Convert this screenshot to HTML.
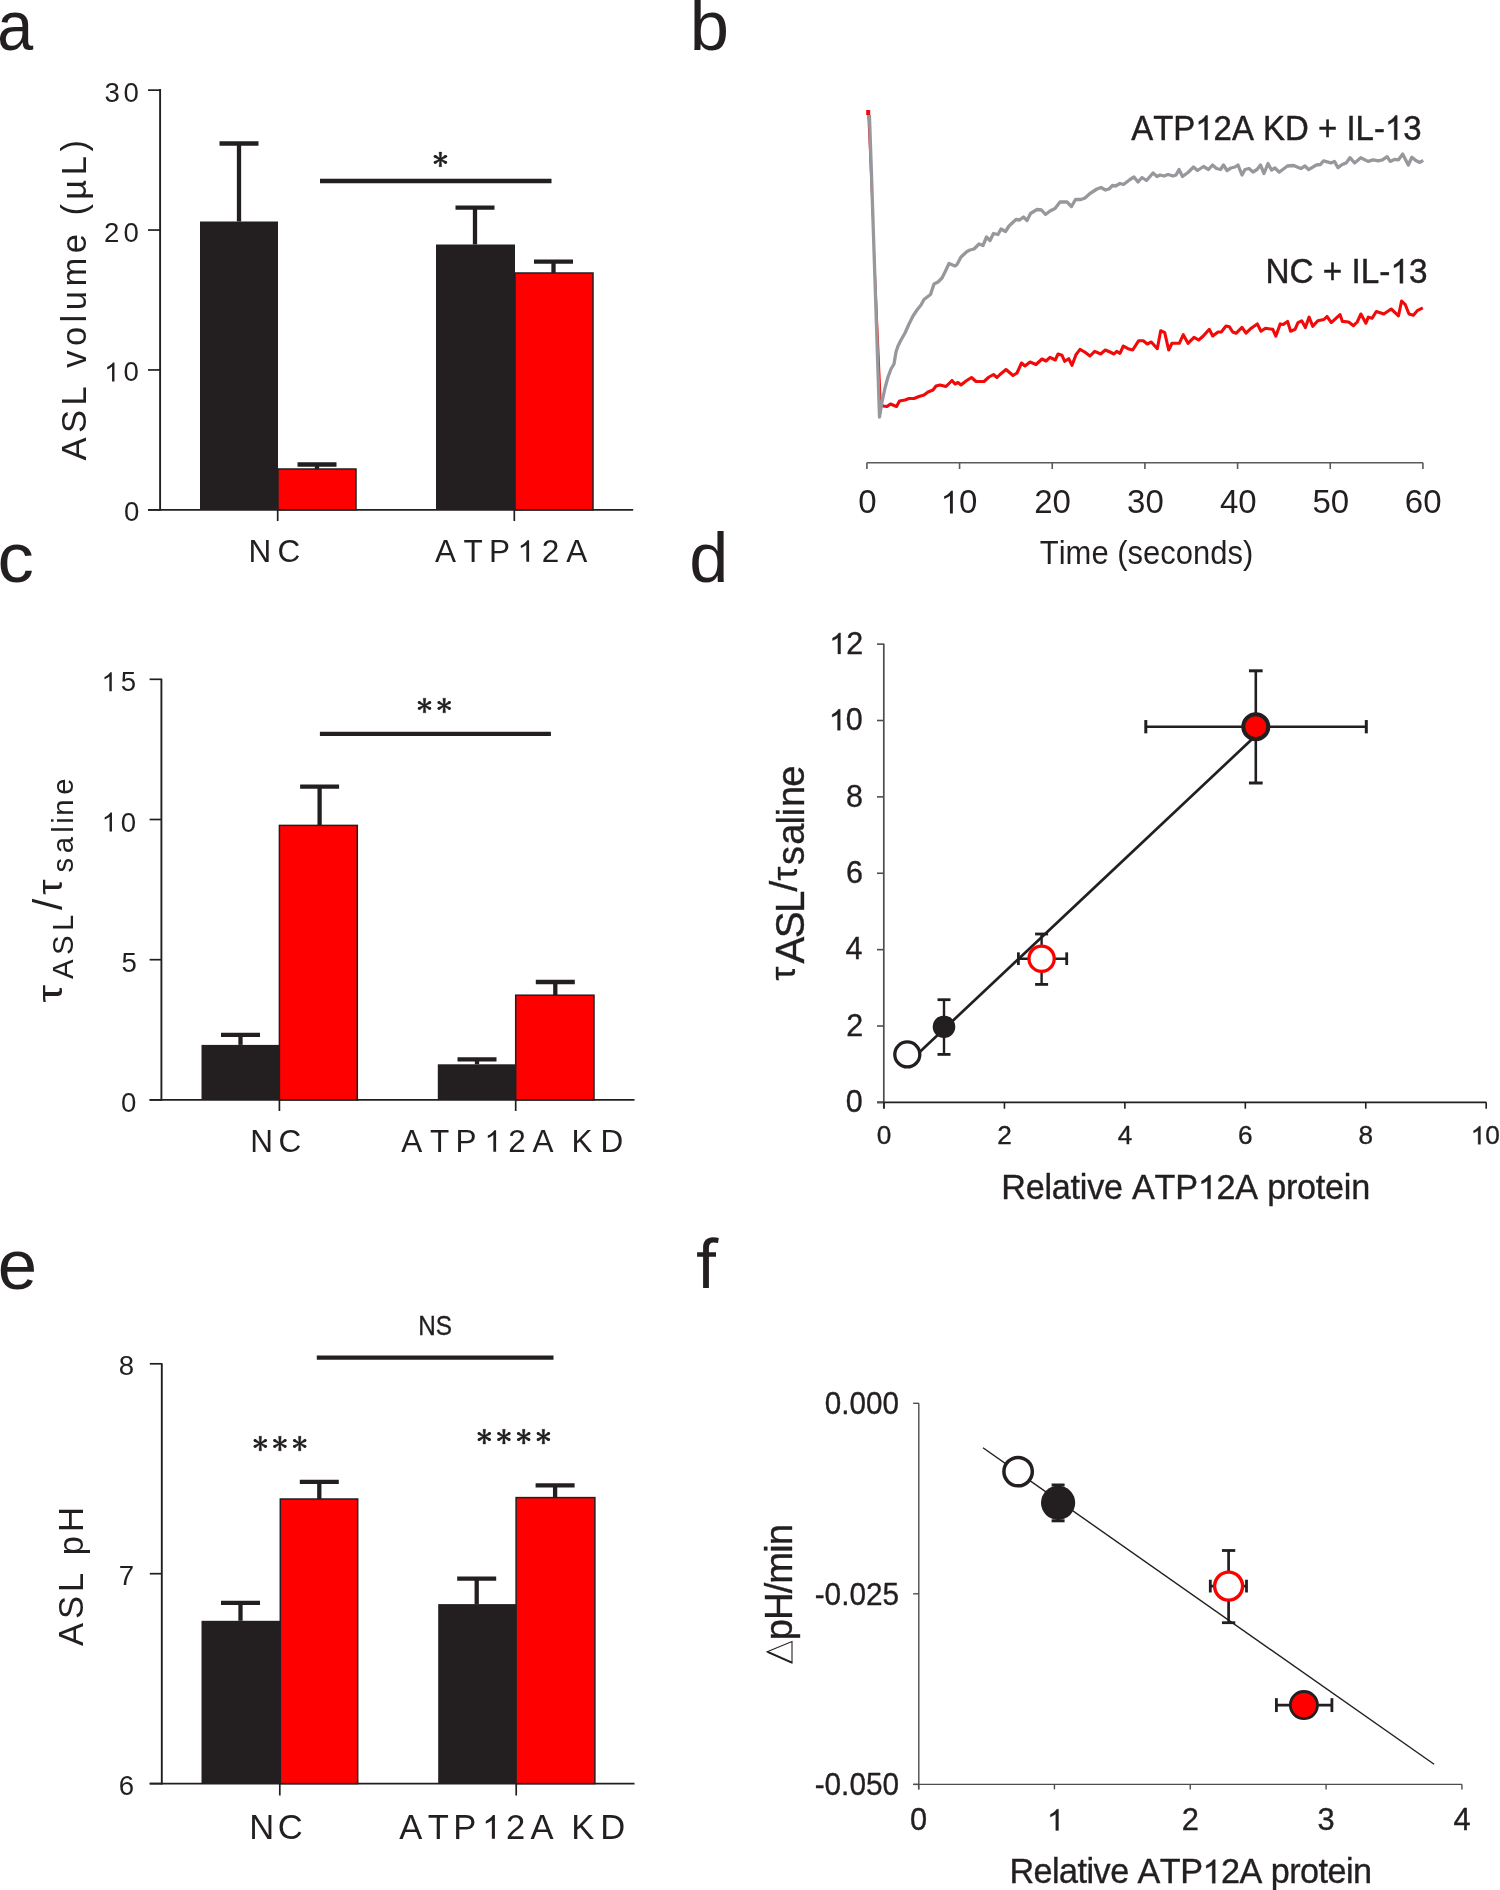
<!DOCTYPE html><html><head><meta charset="utf-8"><style>html,body{margin:0;padding:0;background:#fff;overflow:hidden;}svg{display:block;will-change:transform;}text{font-family:"Liberation Sans",sans-serif;}</style></head><body>
<svg width="1500" height="1890" viewBox="0 0 1500 1890">
<rect width="1500" height="1890" fill="#fff"/>
<text transform="translate(-2.74,50.3) scale(0.927,1)" font-size="69.7" fill="#231f20">a</text>
<text x="689.76" y="49.7" font-size="70.5" fill="#231f20">b</text>
<text transform="translate(-2.59,582.0) scale(1.03,1)" font-size="70.6" fill="#231f20">c</text>
<text x="689.25" y="581.6" font-size="70.3" fill="#231f20">d</text>
<text x="-2.23" y="1289.3" font-size="70.8" fill="#231f20">e</text>
<line x1="160.10" y1="89.00" x2="160.10" y2="510.75" stroke="#231f20" stroke-width="1.9"/>
<line x1="148.00" y1="509.85" x2="633.20" y2="509.85" stroke="#231f20" stroke-width="1.9"/>
<line x1="148.00" y1="509.85" x2="160.10" y2="509.85" stroke="#231f20" stroke-width="1.7"/>
<line x1="148.00" y1="369.95" x2="160.10" y2="369.95" stroke="#231f20" stroke-width="1.7"/>
<line x1="148.00" y1="230.05" x2="160.10" y2="230.05" stroke="#231f20" stroke-width="1.7"/>
<line x1="148.00" y1="90.15" x2="160.10" y2="90.15" stroke="#231f20" stroke-width="1.7"/>
<text x="104.55 123.53" y="101.6" font-size="27.6" fill="#231f20">30</text>
<text x="104.01 123.53" y="241.6" font-size="27.6" fill="#231f20">20</text>
<text x="123.53" y="381.4" font-size="27.6" fill="#231f20">0</text><path transform="translate(104.19,381.4) scale(0.01348,-0.01348)" d="M763,0 L583,0 L583,1102 Q518,1043 412,983 Q306,924 223,894 L223,1061 Q374,1129 487,1226 Q600,1323 647,1409 L763,1409 Z" fill="#231f20"/>
<text x="124.02" y="521.2" font-size="27.6" fill="#231f20">0</text>
<line x1="277.70" y1="509.85" x2="277.70" y2="521.00" stroke="#231f20" stroke-width="1.7"/>
<line x1="514.30" y1="509.85" x2="514.30" y2="521.00" stroke="#231f20" stroke-width="1.7"/>
<rect x="200" y="221.5" width="78.00" height="288.35" fill="#231f20"/>
<rect x="278" y="469" width="78.00" height="40.85" fill="#ff0000" stroke="#231f20" stroke-width="1.5"/>
<rect x="436" y="244.5" width="79.00" height="265.35" fill="#231f20"/>
<rect x="515" y="273" width="78.00" height="236.85" fill="#ff0000" stroke="#231f20" stroke-width="1.5"/>
<line x1="239" y1="221.5" x2="239" y2="143.5" stroke="#231f20" stroke-width="4.3"/>
<line x1="219.50" y1="143.5" x2="258.50" y2="143.5" stroke="#231f20" stroke-width="4.3"/>
<line x1="317" y1="469" x2="317" y2="464.5" stroke="#231f20" stroke-width="4.3"/>
<line x1="297.50" y1="464.5" x2="336.50" y2="464.5" stroke="#231f20" stroke-width="4.3"/>
<line x1="475" y1="244.5" x2="475" y2="207.7" stroke="#231f20" stroke-width="4.3"/>
<line x1="455.50" y1="207.7" x2="494.50" y2="207.7" stroke="#231f20" stroke-width="4.3"/>
<line x1="553.5" y1="273" x2="553.5" y2="261.6" stroke="#231f20" stroke-width="4.3"/>
<line x1="534.00" y1="261.6" x2="573.00" y2="261.6" stroke="#231f20" stroke-width="4.3"/>
<line x1="320.00" y1="181.00" x2="551.50" y2="181.00" stroke="#231f20" stroke-width="4.3"/>
<path d="M441.75,152.10 L439.05,152.10 L439.65,159.40 L439.05,166.70 L441.75,166.70 L441.15,159.40 Z M446.28,157.39 L445.08,155.31 L440.05,158.79 L434.52,161.41 L435.72,163.49 L440.75,160.01 Z M435.72,155.31 L434.52,157.39 L440.05,160.01 L445.08,163.49 L446.28,161.41 L440.75,158.79 Z" fill="#231f20" stroke="#231f20" stroke-width="0.35" stroke-linejoin="round"/><circle cx="445.68" cy="156.35" r="1.45" fill="#231f20"/><circle cx="435.12" cy="162.45" r="1.45" fill="#231f20"/><circle cx="435.12" cy="156.35" r="1.45" fill="#231f20"/><circle cx="445.68" cy="162.45" r="1.45" fill="#231f20"/>
<text x="248.42 277.40" y="561.8" font-size="31.5" fill="#231f20">NC</text>
<text x="434.94 463.39 489.02 541.72 566.14" y="561.8" font-size="31.5" fill="#231f20">ATP2A</text><path transform="translate(517.37,561.8) scale(0.01538,-0.01538)" d="M763,0 L583,0 L583,1102 Q518,1043 412,983 Q306,924 223,894 L223,1061 Q374,1129 487,1226 Q600,1323 647,1409 L763,1409 Z" fill="#231f20"/>
<g transform="translate(85.5,460.57) rotate(-90)"><text x="0.00 27.52 55.03 92.76 114.50 138.18 150.31 173.99 207.25 244.98 260.94 285.31 308.99" y="0" font-size="34.6" fill="#231f20">ASLvolume(µL)</text></g>
<polyline points="868,112 881,404" fill="none" stroke="#f00a0a" stroke-width="1.6"/>
<polyline points="881.0,404.0 883.0,406.0 887.0,406.5 890.5,404.0 896.5,406.5 899.5,401.0 905.0,400.0 909.0,398.5 914.0,398.5 919.0,396.5 924.0,395.0 928.0,392.0 933.0,390.0 936.0,386.0 940.0,385.0 946.0,386.5 952.0,380.5 955.0,384.0 958.0,382.5 961.0,385.0 966.0,381.0 971.5,377.5 976.0,381.5 984.0,381.5 989.0,377.0 993.5,374.5 997.0,377.5 1000.0,374.5 1006.0,369.5 1013.0,375.5 1017.0,373.0 1021.5,363.0 1025.0,366.0 1030.0,362.0 1036.0,364.5 1042.0,359.0 1046.0,361.0 1050.0,357.3 1055.3,360.0 1058.0,354.0 1062.0,355.3 1064.7,361.3 1068.7,358.7 1072.0,365.3 1076.0,354.7 1080.0,349.3 1084.7,352.0 1090.0,356.0 1094.7,351.3 1100.7,354.0 1105.3,350.0 1110.0,352.0 1114.0,354.0 1116.7,351.3 1120.0,353.3 1123.3,346.0 1128.0,348.7 1132.7,350.0 1138.7,340.7 1143.3,340.7 1147.3,344.0 1151.3,342.0 1157.3,348.7 1160.7,330.7 1164.7,332.7 1168.7,350.0 1172.0,343.3 1179.3,343.3 1183.3,334.7 1188.0,343.3 1194.0,337.3 1198.7,340.0 1203.3,336.0 1209.3,329.3 1212.7,336.0 1218.0,332.0 1221.3,332.0 1226.0,326.0 1229.3,326.7 1232.7,332.0 1236.0,333.3 1242.0,327.3 1246.0,333.1 1251.2,328.2 1257.3,323.9 1261.0,331.2 1265.4,328.2 1272.8,329.4 1275.8,336.2 1280.2,323.9 1283.2,324.5 1287.6,321.4 1290.6,331.2 1295.0,329.4 1298.0,322.6 1301.7,320.8 1305.4,327.6 1309.1,317.1 1312.8,326.3 1317.8,320.8 1323.9,319.5 1327.0,316.5 1331.3,322.6 1340.0,314.6 1342.4,321.4 1348.6,322.0 1353.5,325.7 1357.2,322.0 1360.9,314.0 1365.9,323.2 1368.3,317.1 1372.0,318.3 1376.3,311.5 1383.8,314.0 1391.2,309.0 1398.5,315.8 1401.6,301.0 1405.3,304.7 1409.0,314.0 1413.4,315.2 1417.7,310.3 1422.8,307.8" fill="none" stroke="#f00a0a" stroke-width="3.1" stroke-linejoin="round"/>
<polyline points="869.4,115.0 871.0,160.0 879.5,417.0 882.0,402.0 885.0,388.0 888.0,377.0 891.0,369.0 894.0,364.0 896.0,352.0 898.0,346.0 901.0,340.0 905.0,333.0 909.0,324.0 913.0,316.0 917.0,310.0 921.0,305.0 924.0,299.5 930.5,294.5 934.0,284.0 938.0,282.0 942.0,278.0 945.0,272.0 949.0,263.5 955.0,266.0 957.0,264.5 961.0,257.0 967.0,251.5 970.0,250.0 974.0,249.0 979.0,244.0 983.0,245.5 986.5,237.0 990.0,240.5 993.5,233.5 998.0,234.5 1001.0,229.0 1005.5,231.5 1009.0,226.0 1016.0,219.5 1019.5,220.0 1023.5,217.0 1027.0,220.5 1030.5,213.5 1037.0,209.5 1041.5,210.0 1045.5,214.5 1050.0,211.0 1055.0,208.5 1060.0,202.0 1067.0,202.0 1071.5,206.5 1075.5,199.5 1081.0,199.5 1085.0,198.0 1090.0,193.5 1097.0,189.0 1101.0,187.5 1105.5,190.0 1109.0,189.0 1112.5,185.5 1115.5,186.0 1120.0,183.5 1123.5,184.5 1130.0,179.5 1134.0,177.0 1138.0,182.0 1142.0,177.5 1146.5,180.5 1153.0,173.0 1157.0,176.5 1160.0,175.0 1164.0,176.0 1168.0,174.5 1173.0,176.0 1176.0,175.0 1179.0,169.5 1182.5,176.5 1188.0,172.5 1193.5,167.0 1197.5,170.5 1203.5,166.5 1208.5,169.5 1212.5,165.0 1216.5,168.5 1220.5,169.5 1223.5,165.0 1227.0,170.5 1231.0,168.0 1235.0,167.0 1238.0,165.0 1242.0,175.0 1245.0,169.5 1249.0,168.5 1253.0,172.0 1257.0,169.5 1260.5,165.0 1264.0,173.5 1268.0,163.5 1271.5,170.0 1275.0,168.0 1279.1,172.2 1287.4,166.0 1293.6,165.5 1300.8,168.6 1305.0,166.0 1308.6,169.6 1316.3,165.0 1320.5,164.5 1323.6,160.8 1330.8,162.9 1334.4,161.4 1338.0,167.6 1342.2,164.5 1346.3,162.9 1349.9,157.7 1354.6,162.9 1360.8,157.7 1368.0,161.4 1373.2,159.8 1378.3,160.8 1382.5,159.8 1387.1,156.7 1390.2,161.4 1394.9,159.3 1398.5,159.8 1402.6,154.1 1408.3,165.0 1411.9,157.2 1415.5,160.3 1419.7,162.4 1423.2,160.3" fill="none" stroke="#97989c" stroke-width="3.3" stroke-linejoin="round"/>
<rect x="866.2" y="110" width="4" height="5" fill="#f00a0a"/>
<line x1="866.90" y1="462.70" x2="1423.00" y2="462.70" stroke="#5a5a5a" stroke-width="1.6"/>
<line x1="866.90" y1="462.70" x2="866.90" y2="469.00" stroke="#5a5a5a" stroke-width="1.6"/>
<text x="858.22" y="513.4" font-size="33" fill="#231f20">0</text>
<line x1="959.57" y1="462.70" x2="959.57" y2="469.00" stroke="#5a5a5a" stroke-width="1.6"/>
<text x="958.92" y="513.4" font-size="33" fill="#231f20">0</text><path transform="translate(940.56,513.4) scale(0.01611,-0.01611)" d="M763,0 L583,0 L583,1102 Q518,1043 412,983 Q306,924 223,894 L223,1061 Q374,1129 487,1226 Q600,1323 647,1409 L763,1409 Z" fill="#231f20"/>
<line x1="1052.24" y1="462.70" x2="1052.24" y2="469.00" stroke="#5a5a5a" stroke-width="1.6"/>
<text x="1034.20 1052.55" y="513.4" font-size="33" fill="#231f20">20</text>
<line x1="1144.91" y1="462.70" x2="1144.91" y2="469.00" stroke="#5a5a5a" stroke-width="1.6"/>
<text x="1127.07 1145.43" y="513.4" font-size="33" fill="#231f20">30</text>
<line x1="1237.58" y1="462.70" x2="1237.58" y2="469.00" stroke="#5a5a5a" stroke-width="1.6"/>
<text x="1219.99 1238.35" y="513.4" font-size="33" fill="#231f20">40</text>
<line x1="1330.25" y1="462.70" x2="1330.25" y2="469.00" stroke="#5a5a5a" stroke-width="1.6"/>
<text x="1312.38 1330.73" y="513.4" font-size="33" fill="#231f20">50</text>
<line x1="1422.92" y1="462.70" x2="1422.92" y2="469.00" stroke="#5a5a5a" stroke-width="1.6"/>
<text x="1404.87 1423.23" y="513.4" font-size="33" fill="#231f20">60</text>
<g transform="translate(1039.80,564) scale(0.9385,1)"><text x="0.00 20.16 27.49 54.98 82.50 93.49 109.99 128.34 144.84 163.20 181.55 199.90 216.40" y="0" font-size="33" fill="#231f20">Time(seconds)</text></g>
<g transform="translate(1131.16,139.8) scale(0.9337,1)"><text x="0.00 23.54 45.11 88.28 107.92 141.27 164.81 200.11 230.54 240.34 259.98 291.36" y="0" font-size="35.3" fill="#231f20" stroke="#231f20" stroke-width="0.45" stroke-linejoin="round">ATP2AKD+IL-3</text><path transform="translate(68.65,0) scale(0.01724,-0.01724)" d="M763,0 L583,0 L583,1102 Q518,1043 412,983 Q306,924 223,894 L223,1061 Q374,1129 487,1226 Q600,1323 647,1409 L763,1409 Z" fill="#231f20" stroke="#231f20" stroke-width="26.1" stroke-linejoin="round"/><path transform="translate(271.73,0) scale(0.01724,-0.01724)" d="M763,0 L583,0 L583,1102 Q518,1043 412,983 Q306,924 223,894 L223,1061 Q374,1129 487,1226 Q600,1323 647,1409 L763,1409 Z" fill="#231f20" stroke="#231f20" stroke-width="26.1" stroke-linejoin="round"/></g>
<g transform="translate(1265.39,283.2) scale(0.9445,1)"><text x="0.00 25.49 60.79 91.21 101.02 120.65 152.04" y="0" font-size="35.3" fill="#231f20" stroke="#231f20" stroke-width="0.45" stroke-linejoin="round">NC+IL-3</text><path transform="translate(132.41,0) scale(0.01724,-0.01724)" d="M763,0 L583,0 L583,1102 Q518,1043 412,983 Q306,924 223,894 L223,1061 Q374,1129 487,1226 Q600,1323 647,1409 L763,1409 Z" fill="#231f20" stroke="#231f20" stroke-width="26.1" stroke-linejoin="round"/></g>
<line x1="161.40" y1="678.80" x2="161.40" y2="1100.80" stroke="#231f20" stroke-width="1.9"/>
<line x1="149.60" y1="1099.90" x2="634.50" y2="1099.90" stroke="#231f20" stroke-width="1.9"/>
<line x1="149.60" y1="1099.90" x2="161.40" y2="1099.90" stroke="#231f20" stroke-width="1.7"/>
<line x1="149.60" y1="959.70" x2="161.40" y2="959.70" stroke="#231f20" stroke-width="1.7"/>
<line x1="149.60" y1="819.50" x2="161.40" y2="819.50" stroke="#231f20" stroke-width="1.7"/>
<line x1="149.60" y1="679.30" x2="161.40" y2="679.30" stroke="#231f20" stroke-width="1.7"/>
<text x="120.81" y="691.3" font-size="27.6" fill="#231f20">5</text><path transform="translate(101.49,691.3) scale(0.01348,-0.01348)" d="M763,0 L583,0 L583,1102 Q518,1043 412,983 Q306,924 223,894 L223,1061 Q374,1129 487,1226 Q600,1323 647,1409 L763,1409 Z" fill="#231f20"/>
<text x="120.73" y="831.5" font-size="27.6" fill="#231f20">0</text><path transform="translate(101.69,831.5) scale(0.01348,-0.01348)" d="M763,0 L583,0 L583,1102 Q518,1043 412,983 Q306,924 223,894 L223,1061 Q374,1129 487,1226 Q600,1323 647,1409 L763,1409 Z" fill="#231f20"/>
<text x="121.59" y="971.7" font-size="27.6" fill="#231f20">5</text>
<text x="121.12" y="1111.9" font-size="27.6" fill="#231f20">0</text>
<line x1="279.40" y1="1099.90" x2="279.40" y2="1111.00" stroke="#231f20" stroke-width="1.7"/>
<line x1="515.70" y1="1099.90" x2="515.70" y2="1111.00" stroke="#231f20" stroke-width="1.7"/>
<rect x="201.5" y="1044.9" width="77.90" height="55.00" fill="#231f20"/>
<rect x="279.4" y="825.4" width="77.90" height="274.50" fill="#ff0000" stroke="#231f20" stroke-width="1.5"/>
<rect x="437.8" y="1064.3" width="77.90" height="35.60" fill="#231f20"/>
<rect x="515.7" y="995.2" width="78.30" height="104.70" fill="#ff0000" stroke="#231f20" stroke-width="1.5"/>
<line x1="240.5" y1="1044.9" x2="240.5" y2="1034.8" stroke="#231f20" stroke-width="4.3"/>
<line x1="221.00" y1="1034.8" x2="260.00" y2="1034.8" stroke="#231f20" stroke-width="4.3"/>
<line x1="319.6" y1="825.4" x2="319.6" y2="786.6" stroke="#231f20" stroke-width="4.3"/>
<line x1="300.10" y1="786.6" x2="339.10" y2="786.6" stroke="#231f20" stroke-width="4.3"/>
<line x1="477" y1="1064.3" x2="477" y2="1059.4" stroke="#231f20" stroke-width="4.3"/>
<line x1="457.50" y1="1059.4" x2="496.50" y2="1059.4" stroke="#231f20" stroke-width="4.3"/>
<line x1="555.3" y1="995.2" x2="555.3" y2="982" stroke="#231f20" stroke-width="4.3"/>
<line x1="535.80" y1="982" x2="574.80" y2="982" stroke="#231f20" stroke-width="4.3"/>
<line x1="319.90" y1="733.80" x2="550.90" y2="733.80" stroke="#231f20" stroke-width="4.3"/>
<path d="M425.85,698.20 L423.15,698.20 L423.75,705.50 L423.15,712.80 L425.85,712.80 L425.25,705.50 Z M430.38,703.49 L429.18,701.41 L424.15,704.89 L418.62,707.51 L419.82,709.59 L424.85,706.11 Z M419.82,701.41 L418.62,703.49 L424.15,706.11 L429.18,709.59 L430.38,707.51 L424.85,704.89 Z" fill="#231f20" stroke="#231f20" stroke-width="0.35" stroke-linejoin="round"/><circle cx="429.78" cy="702.45" r="1.45" fill="#231f20"/><circle cx="419.22" cy="708.55" r="1.45" fill="#231f20"/><circle cx="419.22" cy="702.45" r="1.45" fill="#231f20"/><circle cx="429.78" cy="708.55" r="1.45" fill="#231f20"/>
<path d="M445.55,698.20 L442.85,698.20 L443.45,705.50 L442.85,712.80 L445.55,712.80 L444.95,705.50 Z M450.08,703.49 L448.88,701.41 L443.85,704.89 L438.32,707.51 L439.52,709.59 L444.55,706.11 Z M439.52,701.41 L438.32,703.49 L443.85,706.11 L448.88,709.59 L450.08,707.51 L444.55,704.89 Z" fill="#231f20" stroke="#231f20" stroke-width="0.35" stroke-linejoin="round"/><circle cx="449.48" cy="702.45" r="1.45" fill="#231f20"/><circle cx="438.92" cy="708.55" r="1.45" fill="#231f20"/><circle cx="438.92" cy="702.45" r="1.45" fill="#231f20"/><circle cx="449.48" cy="708.55" r="1.45" fill="#231f20"/>
<text x="250.22 278.60" y="1151.8" font-size="31.5" fill="#231f20">NC</text>
<text x="401.34 429.89 455.62 508.22 532.54 571.42 600.42" y="1151.8" font-size="31.5" fill="#231f20">ATP2AKD</text><path transform="translate(484.37,1151.8) scale(0.01538,-0.01538)" d="M763,0 L583,0 L583,1102 Q518,1043 412,983 Q306,924 223,894 L223,1061 Q374,1129 487,1226 Q600,1323 647,1409 L763,1409 Z" fill="#231f20"/>
<text transform="translate(62.1,1002.74) rotate(-90) scale(1.3,1)" font-size="34.6" fill="#231f20">τ</text>
<text transform="translate(72.8,979.06) rotate(-90)" font-size="29.4" fill="#231f20">A</text>
<text transform="translate(72.8,955.04) rotate(-90)" font-size="29.4" fill="#231f20">S</text>
<text transform="translate(72.8,931.11) rotate(-90)" font-size="29.4" fill="#231f20">L</text>
<text transform="translate(61.7,910.00) rotate(-90)" font-size="40.4" fill="#231f20">/</text>
<text transform="translate(62.1,894.65) rotate(-90) scale(1.12,1)" font-size="34.6" fill="#231f20">τ</text>
<text transform="translate(73.2,872.42) rotate(-90)" font-size="29.3" fill="#231f20">s</text>
<text transform="translate(73.2,853.34) rotate(-90)" font-size="29.3" fill="#231f20">a</text>
<text transform="translate(73.2,832.77) rotate(-90)" font-size="29.3" fill="#231f20">l</text>
<text transform="translate(73.2,823.76) rotate(-90)" font-size="29.3" fill="#231f20">i</text>
<text transform="translate(73.2,815.65) rotate(-90)" font-size="29.3" fill="#231f20">n</text>
<text transform="translate(73.2,794.84) rotate(-90)" font-size="29.3" fill="#231f20">e</text>
<line x1="883.80" y1="643.80" x2="883.80" y2="1108.40" stroke="#4d4d4d" stroke-width="1.7"/>
<line x1="877.00" y1="1102.40" x2="1486.50" y2="1102.40" stroke="#231f20" stroke-width="1.6"/>
<line x1="877.00" y1="1102.40" x2="883.80" y2="1102.40" stroke="#4d4d4d" stroke-width="1.6"/>
<text x="845.83" y="1112.2" font-size="30.5" fill="#231f20" stroke="#231f20" stroke-width="0.35" stroke-linejoin="round">0</text>
<line x1="877.00" y1="1026.02" x2="883.80" y2="1026.02" stroke="#4d4d4d" stroke-width="1.6"/>
<text x="846.17" y="1035.8" font-size="30.5" fill="#231f20" stroke="#231f20" stroke-width="0.35" stroke-linejoin="round">2</text>
<line x1="877.00" y1="949.64" x2="883.80" y2="949.64" stroke="#4d4d4d" stroke-width="1.6"/>
<text x="845.53" y="959.4" font-size="30.5" fill="#231f20" stroke="#231f20" stroke-width="0.35" stroke-linejoin="round">4</text>
<line x1="877.00" y1="873.26" x2="883.80" y2="873.26" stroke="#4d4d4d" stroke-width="1.6"/>
<text x="845.98" y="883.1" font-size="30.5" fill="#231f20" stroke="#231f20" stroke-width="0.35" stroke-linejoin="round">6</text>
<line x1="877.00" y1="796.88" x2="883.80" y2="796.88" stroke="#4d4d4d" stroke-width="1.6"/>
<text x="845.96" y="806.7" font-size="30.5" fill="#231f20" stroke="#231f20" stroke-width="0.35" stroke-linejoin="round">8</text>
<line x1="877.00" y1="720.50" x2="883.80" y2="720.50" stroke="#4d4d4d" stroke-width="1.6"/>
<text x="845.83" y="730.3" font-size="30.5" fill="#231f20" stroke="#231f20" stroke-width="0.35" stroke-linejoin="round">0</text><path transform="translate(828.87,730.3) scale(0.01489,-0.01489)" d="M763,0 L583,0 L583,1102 Q518,1043 412,983 Q306,924 223,894 L223,1061 Q374,1129 487,1226 Q600,1323 647,1409 L763,1409 Z" fill="#231f20" stroke="#231f20" stroke-width="23.5" stroke-linejoin="round"/>
<line x1="877.00" y1="644.12" x2="883.80" y2="644.12" stroke="#4d4d4d" stroke-width="1.6"/>
<text x="846.17" y="653.9" font-size="30.5" fill="#231f20" stroke="#231f20" stroke-width="0.35" stroke-linejoin="round">2</text><path transform="translate(829.21,653.9) scale(0.01489,-0.01489)" d="M763,0 L583,0 L583,1102 Q518,1043 412,983 Q306,924 223,894 L223,1061 Q374,1129 487,1226 Q600,1323 647,1409 L763,1409 Z" fill="#231f20" stroke="#231f20" stroke-width="23.5" stroke-linejoin="round"/>
<line x1="884.00" y1="1102.40" x2="884.00" y2="1108.70" stroke="#231f20" stroke-width="1.6"/>
<text x="876.71" y="1144.3" font-size="26.2" fill="#231f20" stroke="#231f20" stroke-width="0.35" stroke-linejoin="round">0</text>
<line x1="1004.44" y1="1102.40" x2="1004.44" y2="1108.70" stroke="#231f20" stroke-width="1.6"/>
<text x="997.15" y="1144.3" font-size="26.2" fill="#231f20" stroke="#231f20" stroke-width="0.35" stroke-linejoin="round">2</text>
<line x1="1124.88" y1="1102.40" x2="1124.88" y2="1108.70" stroke="#231f20" stroke-width="1.6"/>
<text x="1117.68" y="1144.3" font-size="26.2" fill="#231f20" stroke="#231f20" stroke-width="0.35" stroke-linejoin="round">4</text>
<line x1="1245.32" y1="1102.40" x2="1245.32" y2="1108.70" stroke="#231f20" stroke-width="1.6"/>
<text x="1237.94" y="1144.3" font-size="26.2" fill="#231f20" stroke="#231f20" stroke-width="0.35" stroke-linejoin="round">6</text>
<line x1="1365.76" y1="1102.40" x2="1365.76" y2="1108.70" stroke="#231f20" stroke-width="1.6"/>
<text x="1358.47" y="1144.3" font-size="26.2" fill="#231f20" stroke="#231f20" stroke-width="0.35" stroke-linejoin="round">8</text>
<line x1="1486.20" y1="1102.40" x2="1486.20" y2="1108.70" stroke="#231f20" stroke-width="1.6"/>
<text x="1485.29" y="1144.3" font-size="26.2" fill="#231f20" stroke="#231f20" stroke-width="0.35" stroke-linejoin="round">0</text><path transform="translate(1470.71,1144.3) scale(0.01279,-0.01279)" d="M763,0 L583,0 L583,1102 Q518,1043 412,983 Q306,924 223,894 L223,1061 Q374,1129 487,1226 Q600,1323 647,1409 L763,1409 Z" fill="#231f20" stroke="#231f20" stroke-width="27.4" stroke-linejoin="round"/>
<text x="1001.19 1025.64 1044.42 1051.77 1070.54 1079.79 1087.14 1103.99 1132.02 1154.58 1175.22 1216.55 1235.33 1267.14 1285.91 1297.05 1315.83 1325.08 1343.85 1351.20" y="1198.8" font-size="34.2" fill="#231f20" stroke="#231f20" stroke-width="0.35" stroke-linejoin="round">RelativeATP2Aprotein</text><path transform="translate(1197.78,1198.8) scale(0.01670,-0.01670)" d="M763,0 L583,0 L583,1102 Q518,1043 412,983 Q306,924 223,894 L223,1061 Q374,1129 487,1226 Q600,1323 647,1409 L763,1409 Z" fill="#231f20" stroke="#231f20" stroke-width="21.0" stroke-linejoin="round"/>
<text transform="translate(795.4,980.50) rotate(-90)" font-size="35" fill="#231f20" stroke="#231f20" stroke-width="0.35">τ</text>
<text transform="translate(803.9,963.38) rotate(-90)" font-size="40.4" fill="#231f20" stroke="#231f20" stroke-width="0.35">A</text>
<text transform="translate(803.9,938.13) rotate(-90)" font-size="40.4" fill="#231f20" stroke="#231f20" stroke-width="0.35">S</text>
<text transform="translate(803.9,912.91) rotate(-90)" font-size="40.4" fill="#231f20" stroke="#231f20" stroke-width="0.35">L</text>
<text transform="translate(797.2,891.50) rotate(-90)" font-size="38.4" fill="#231f20" stroke="#231f20" stroke-width="0.35">/</text>
<text transform="translate(797.4,880.50) rotate(-90)" font-size="35" fill="#231f20" stroke="#231f20" stroke-width="0.35">τ</text>
<text transform="translate(803.8,864.96) rotate(-90)" font-size="38" fill="#231f20" stroke="#231f20" stroke-width="0.35">s</text>
<text transform="translate(803.8,844.81) rotate(-90)" font-size="38" fill="#231f20" stroke="#231f20" stroke-width="0.35">a</text>
<text transform="translate(803.8,824.46) rotate(-90)" font-size="38" fill="#231f20" stroke="#231f20" stroke-width="0.35">l</text>
<text transform="translate(803.8,816.24) rotate(-90)" font-size="38" fill="#231f20" stroke="#231f20" stroke-width="0.35">i</text>
<text transform="translate(803.8,807.12) rotate(-90)" font-size="38" fill="#231f20" stroke="#231f20" stroke-width="0.35">n</text>
<text transform="translate(803.8,786.71) rotate(-90)" font-size="38" fill="#231f20" stroke="#231f20" stroke-width="0.35">e</text>
<line x1="912.00" y1="1059.16" x2="1262.00" y2="729.81" stroke="#231f20" stroke-width="2.7"/>
<line x1="944.00" y1="999.70" x2="944.00" y2="1054.40" stroke="#231f20" stroke-width="2.4"/>
<line x1="937.50" y1="999.70" x2="950.50" y2="999.70" stroke="#231f20" stroke-width="2.8"/>
<line x1="937.50" y1="1054.40" x2="950.50" y2="1054.40" stroke="#231f20" stroke-width="2.8"/>
<line x1="1041.60" y1="934.00" x2="1041.60" y2="984.40" stroke="#231f20" stroke-width="2.4"/>
<line x1="1035.10" y1="934.00" x2="1048.10" y2="934.00" stroke="#231f20" stroke-width="2.8"/>
<line x1="1035.10" y1="984.40" x2="1048.10" y2="984.40" stroke="#231f20" stroke-width="2.8"/>
<line x1="1018.40" y1="958.70" x2="1066.70" y2="958.70" stroke="#231f20" stroke-width="2.4"/>
<line x1="1018.40" y1="952.35" x2="1018.40" y2="965.05" stroke="#231f20" stroke-width="2.8"/>
<line x1="1066.70" y1="952.35" x2="1066.70" y2="965.05" stroke="#231f20" stroke-width="2.8"/>
<line x1="1255.80" y1="670.80" x2="1255.80" y2="783.00" stroke="#231f20" stroke-width="2.6"/>
<line x1="1248.95" y1="670.80" x2="1262.65" y2="670.80" stroke="#231f20" stroke-width="3"/>
<line x1="1248.95" y1="783.00" x2="1262.65" y2="783.00" stroke="#231f20" stroke-width="3"/>
<line x1="1145.80" y1="726.70" x2="1366.30" y2="726.70" stroke="#231f20" stroke-width="2.6"/>
<line x1="1145.80" y1="720.05" x2="1145.80" y2="733.35" stroke="#231f20" stroke-width="3"/>
<line x1="1366.30" y1="720.05" x2="1366.30" y2="733.35" stroke="#231f20" stroke-width="3"/>
<circle cx="907.3" cy="1054.4" r="12.5" fill="#fff" stroke="#231f20" stroke-width="3.3"/>
<circle cx="944" cy="1026.7" r="11.3" fill="#231f20"/>
<circle cx="1041.6" cy="958.7" r="12.6" fill="#fff" stroke="#ff0000" stroke-width="3.3"/>
<circle cx="1255.8" cy="726.7" r="12.5" fill="#ff0000" stroke="#231f20" stroke-width="4"/>
<line x1="161.80" y1="1363.30" x2="161.80" y2="1784.50" stroke="#231f20" stroke-width="1.9"/>
<line x1="149.60" y1="1783.60" x2="634.50" y2="1783.60" stroke="#231f20" stroke-width="1.9"/>
<line x1="149.80" y1="1783.60" x2="161.80" y2="1783.60" stroke="#231f20" stroke-width="1.7"/>
<text x="118.66" y="1795.0" font-size="27.6" fill="#231f20">6</text>
<line x1="149.80" y1="1573.70" x2="161.80" y2="1573.70" stroke="#231f20" stroke-width="1.7"/>
<text x="118.84" y="1585.1" font-size="27.6" fill="#231f20">7</text>
<line x1="149.80" y1="1363.80" x2="161.80" y2="1363.80" stroke="#231f20" stroke-width="1.7"/>
<text x="118.65" y="1375.2" font-size="27.6" fill="#231f20">8</text>
<line x1="279.80" y1="1783.60" x2="279.80" y2="1795.50" stroke="#231f20" stroke-width="1.7"/>
<line x1="516.20" y1="1783.60" x2="516.20" y2="1795.50" stroke="#231f20" stroke-width="1.7"/>
<rect x="201.5" y="1620.8" width="78.80" height="162.80" fill="#231f20"/>
<rect x="280.3" y="1499" width="77.40" height="284.60" fill="#ff0000" stroke="#231f20" stroke-width="1.5"/>
<rect x="438.2" y="1604.1" width="77.90" height="179.50" fill="#231f20"/>
<rect x="516.1" y="1497.6" width="78.80" height="286.00" fill="#ff0000" stroke="#231f20" stroke-width="1.5"/>
<line x1="240.5" y1="1620.8" x2="240.5" y2="1602.8" stroke="#231f20" stroke-width="4.3"/>
<line x1="221.00" y1="1602.8" x2="260.00" y2="1602.8" stroke="#231f20" stroke-width="4.3"/>
<line x1="319.3" y1="1499" x2="319.3" y2="1481.8" stroke="#231f20" stroke-width="4.3"/>
<line x1="299.80" y1="1481.8" x2="338.80" y2="1481.8" stroke="#231f20" stroke-width="4.3"/>
<line x1="476.7" y1="1604.1" x2="476.7" y2="1578.6" stroke="#231f20" stroke-width="4.3"/>
<line x1="457.20" y1="1578.6" x2="496.20" y2="1578.6" stroke="#231f20" stroke-width="4.3"/>
<line x1="555.1" y1="1497.6" x2="555.1" y2="1485.3" stroke="#231f20" stroke-width="4.3"/>
<line x1="535.60" y1="1485.3" x2="574.60" y2="1485.3" stroke="#231f20" stroke-width="4.3"/>
<line x1="316.80" y1="1357.70" x2="553.50" y2="1357.70" stroke="#231f20" stroke-width="4.3"/>
<g transform="translate(418.18,1334.6) scale(0.8557,1)"><text x="0.00 20.51" y="0" font-size="28.4" fill="#231f20" stroke="#231f20" stroke-width="0.35" stroke-linejoin="round">NS</text></g>
<path d="M261.65,1436.20 L258.95,1436.20 L259.55,1443.50 L258.95,1450.80 L261.65,1450.80 L261.05,1443.50 Z M266.18,1441.49 L264.98,1439.41 L259.95,1442.89 L254.42,1445.51 L255.62,1447.59 L260.65,1444.11 Z M255.62,1439.41 L254.42,1441.49 L259.95,1444.11 L264.98,1447.59 L266.18,1445.51 L260.65,1442.89 Z" fill="#231f20" stroke="#231f20" stroke-width="0.35" stroke-linejoin="round"/><circle cx="265.58" cy="1440.45" r="1.45" fill="#231f20"/><circle cx="255.02" cy="1446.55" r="1.45" fill="#231f20"/><circle cx="255.02" cy="1440.45" r="1.45" fill="#231f20"/><circle cx="265.58" cy="1446.55" r="1.45" fill="#231f20"/>
<path d="M281.25,1436.20 L278.55,1436.20 L279.15,1443.50 L278.55,1450.80 L281.25,1450.80 L280.65,1443.50 Z M285.78,1441.49 L284.58,1439.41 L279.55,1442.89 L274.02,1445.51 L275.22,1447.59 L280.25,1444.11 Z M275.22,1439.41 L274.02,1441.49 L279.55,1444.11 L284.58,1447.59 L285.78,1445.51 L280.25,1442.89 Z" fill="#231f20" stroke="#231f20" stroke-width="0.35" stroke-linejoin="round"/><circle cx="285.18" cy="1440.45" r="1.45" fill="#231f20"/><circle cx="274.62" cy="1446.55" r="1.45" fill="#231f20"/><circle cx="274.62" cy="1440.45" r="1.45" fill="#231f20"/><circle cx="285.18" cy="1446.55" r="1.45" fill="#231f20"/>
<path d="M301.05,1436.20 L298.35,1436.20 L298.95,1443.50 L298.35,1450.80 L301.05,1450.80 L300.45,1443.50 Z M305.58,1441.49 L304.38,1439.41 L299.35,1442.89 L293.82,1445.51 L295.02,1447.59 L300.05,1444.11 Z M295.02,1439.41 L293.82,1441.49 L299.35,1444.11 L304.38,1447.59 L305.58,1445.51 L300.05,1442.89 Z" fill="#231f20" stroke="#231f20" stroke-width="0.35" stroke-linejoin="round"/><circle cx="304.98" cy="1440.45" r="1.45" fill="#231f20"/><circle cx="294.42" cy="1446.55" r="1.45" fill="#231f20"/><circle cx="294.42" cy="1440.45" r="1.45" fill="#231f20"/><circle cx="304.98" cy="1446.55" r="1.45" fill="#231f20"/>
<path d="M485.65,1429.30 L482.95,1429.30 L483.55,1436.60 L482.95,1443.90 L485.65,1443.90 L485.05,1436.60 Z M490.18,1434.59 L488.98,1432.51 L483.95,1435.99 L478.42,1438.61 L479.62,1440.69 L484.65,1437.21 Z M479.62,1432.51 L478.42,1434.59 L483.95,1437.21 L488.98,1440.69 L490.18,1438.61 L484.65,1435.99 Z" fill="#231f20" stroke="#231f20" stroke-width="0.35" stroke-linejoin="round"/><circle cx="489.58" cy="1433.55" r="1.45" fill="#231f20"/><circle cx="479.02" cy="1439.65" r="1.45" fill="#231f20"/><circle cx="479.02" cy="1433.55" r="1.45" fill="#231f20"/><circle cx="489.58" cy="1439.65" r="1.45" fill="#231f20"/>
<path d="M505.25,1429.30 L502.55,1429.30 L503.15,1436.60 L502.55,1443.90 L505.25,1443.90 L504.65,1436.60 Z M509.78,1434.59 L508.58,1432.51 L503.55,1435.99 L498.02,1438.61 L499.22,1440.69 L504.25,1437.21 Z M499.22,1432.51 L498.02,1434.59 L503.55,1437.21 L508.58,1440.69 L509.78,1438.61 L504.25,1435.99 Z" fill="#231f20" stroke="#231f20" stroke-width="0.35" stroke-linejoin="round"/><circle cx="509.18" cy="1433.55" r="1.45" fill="#231f20"/><circle cx="498.62" cy="1439.65" r="1.45" fill="#231f20"/><circle cx="498.62" cy="1433.55" r="1.45" fill="#231f20"/><circle cx="509.18" cy="1439.65" r="1.45" fill="#231f20"/>
<path d="M525.05,1429.30 L522.35,1429.30 L522.95,1436.60 L522.35,1443.90 L525.05,1443.90 L524.45,1436.60 Z M529.58,1434.59 L528.38,1432.51 L523.35,1435.99 L517.82,1438.61 L519.02,1440.69 L524.05,1437.21 Z M519.02,1432.51 L517.82,1434.59 L523.35,1437.21 L528.38,1440.69 L529.58,1438.61 L524.05,1435.99 Z" fill="#231f20" stroke="#231f20" stroke-width="0.35" stroke-linejoin="round"/><circle cx="528.98" cy="1433.55" r="1.45" fill="#231f20"/><circle cx="518.42" cy="1439.65" r="1.45" fill="#231f20"/><circle cx="518.42" cy="1433.55" r="1.45" fill="#231f20"/><circle cx="528.98" cy="1439.65" r="1.45" fill="#231f20"/>
<path d="M544.75,1429.30 L542.05,1429.30 L542.65,1436.60 L542.05,1443.90 L544.75,1443.90 L544.15,1436.60 Z M549.28,1434.59 L548.08,1432.51 L543.05,1435.99 L537.52,1438.61 L538.72,1440.69 L543.75,1437.21 Z M538.72,1432.51 L537.52,1434.59 L543.05,1437.21 L548.08,1440.69 L549.28,1438.61 L543.75,1435.99 Z" fill="#231f20" stroke="#231f20" stroke-width="0.35" stroke-linejoin="round"/><circle cx="548.68" cy="1433.55" r="1.45" fill="#231f20"/><circle cx="538.12" cy="1439.65" r="1.45" fill="#231f20"/><circle cx="538.12" cy="1433.55" r="1.45" fill="#231f20"/><circle cx="548.68" cy="1439.65" r="1.45" fill="#231f20"/>
<text x="249.16 277.84" y="1838.8" font-size="34.6" fill="#231f20">NC</text>
<text x="399.33 427.82 453.36 506.06 530.53 571.36 600.16" y="1838.8" font-size="34.6" fill="#231f20">ATP2AKD</text><path transform="translate(482.03,1838.8) scale(0.01689,-0.01689)" d="M763,0 L583,0 L583,1102 Q518,1043 412,983 Q306,924 223,894 L223,1061 Q374,1129 487,1226 Q600,1323 647,1409 L763,1409 Z" fill="#231f20"/>
<g transform="translate(83.2,1645.97) rotate(-90)"><text x="0.00 27.03 54.05 90.81 114.00" y="0" font-size="34.6" fill="#231f20">ASLpH</text></g>
<path d="M703.1,1288.1 L703.1,1247.2 C703.1,1240.6 707.2,1237.2 713.0,1237.2 C715.2,1237.2 717.2,1237.5 718.8,1238.0 L718.0,1242.9 C716.6,1242.6 715.1,1242.4 713.6,1242.4 C710.3,1242.4 708.9,1244.3 708.9,1248.0 L708.9,1288.1 Z M697.1,1252.2 L716.0,1252.2 L716.0,1256.7 L697.1,1256.7 Z" fill="#231f20"/>
<line x1="918.80" y1="1403.30" x2="918.80" y2="1789.40" stroke="#4d4d4d" stroke-width="1.4"/>
<line x1="913.20" y1="1784.40" x2="1462.00" y2="1784.40" stroke="#4d4d4d" stroke-width="1.4"/>
<line x1="913.20" y1="1403.30" x2="918.80" y2="1403.30" stroke="#4d4d4d" stroke-width="1.4"/>
<g transform="translate(824.84,1414.3) scale(0.9567,1)"><text x="0.00 17.24 25.85 43.09 60.33" y="0" font-size="31" fill="#231f20" stroke="#231f20" stroke-width="0.35" stroke-linejoin="round">0.000</text></g>
<line x1="913.20" y1="1593.80" x2="918.80" y2="1593.80" stroke="#4d4d4d" stroke-width="1.4"/>
<g transform="translate(814.68,1604.8) scale(0.9610,1)"><text x="0.00 10.32 27.56 36.18 53.42 70.66" y="0" font-size="31" fill="#231f20" stroke="#231f20" stroke-width="0.35" stroke-linejoin="round">-0.025</text></g>
<line x1="913.20" y1="1784.40" x2="918.80" y2="1784.40" stroke="#4d4d4d" stroke-width="1.4"/>
<g transform="translate(814.68,1795.4) scale(0.9600,1)"><text x="0.00 10.32 27.56 36.18 53.42 70.66" y="0" font-size="31" fill="#231f20" stroke="#231f20" stroke-width="0.35" stroke-linejoin="round">-0.050</text></g>
<line x1="918.60" y1="1784.40" x2="918.60" y2="1789.40" stroke="#4d4d4d" stroke-width="1.4"/>
<text x="910.04" y="1830.4" font-size="30.8" fill="#231f20" stroke="#231f20" stroke-width="0.35" stroke-linejoin="round">0</text>
<line x1="1054.43" y1="1784.40" x2="1054.43" y2="1789.40" stroke="#4d4d4d" stroke-width="1.4"/>
<path transform="translate(1047.02,1830.4) scale(0.01504,-0.01504)" d="M763,0 L583,0 L583,1102 Q518,1043 412,983 Q306,924 223,894 L223,1061 Q374,1129 487,1226 Q600,1323 647,1409 L763,1409 Z" fill="#231f20" stroke="#231f20" stroke-width="23.3" stroke-linejoin="round"/>
<line x1="1190.26" y1="1784.40" x2="1190.26" y2="1789.40" stroke="#4d4d4d" stroke-width="1.4"/>
<text x="1181.70" y="1830.4" font-size="30.8" fill="#231f20" stroke="#231f20" stroke-width="0.35" stroke-linejoin="round">2</text>
<line x1="1326.09" y1="1784.40" x2="1326.09" y2="1789.40" stroke="#4d4d4d" stroke-width="1.4"/>
<text x="1317.62" y="1830.4" font-size="30.8" fill="#231f20" stroke="#231f20" stroke-width="0.35" stroke-linejoin="round">3</text>
<line x1="1461.92" y1="1784.40" x2="1461.92" y2="1789.40" stroke="#4d4d4d" stroke-width="1.4"/>
<text x="1453.45" y="1830.4" font-size="30.8" fill="#231f20" stroke="#231f20" stroke-width="0.35" stroke-linejoin="round">4</text>
<text x="1009.39 1033.55 1052.03 1059.09 1077.57 1086.54 1093.59 1110.15 1137.60 1159.87 1180.22 1220.97 1239.45 1270.69 1289.17 1300.02 1318.50 1327.46 1345.94 1353.00" y="1883.2" font-size="34.2" fill="#231f20" stroke="#231f20" stroke-width="0.35" stroke-linejoin="round">RelativeATP2Aprotein</text><path transform="translate(1202.49,1883.2) scale(0.01670,-0.01670)" d="M763,0 L583,0 L583,1102 Q518,1043 412,983 Q306,924 223,894 L223,1061 Q374,1129 487,1226 Q600,1323 647,1409 L763,1409 Z" fill="#231f20" stroke="#231f20" stroke-width="21.0" stroke-linejoin="round"/>
<path d="M767.2,1651.8 L792.0,1641.6 L792.0,1662.8 Z" fill="none" stroke="#231f20" stroke-width="1.1" stroke-linejoin="miter"/>
<path d="M767.6,1651.8 L792.0,1662.6" fill="none" stroke="#231f20" stroke-width="2"/>
<g transform="translate(791.8,1640.36) rotate(-90)"><text x="0.00 20.33 47.01 56.71 87.62 95.20" y="0" font-size="38.2" fill="#231f20" stroke="#231f20" stroke-width="0.35" stroke-linejoin="round">pH/min</text></g>
<line x1="983.00" y1="1447.80" x2="1434.10" y2="1764.30" stroke="#231f20" stroke-width="1.4"/>
<line x1="1058.10" y1="1485.00" x2="1058.10" y2="1520.80" stroke="#231f20" stroke-width="3"/>
<line x1="1051.60" y1="1485.00" x2="1064.60" y2="1485.00" stroke="#231f20" stroke-width="3"/>
<line x1="1051.60" y1="1520.80" x2="1064.60" y2="1520.80" stroke="#231f20" stroke-width="3"/>
<line x1="1228.60" y1="1550.50" x2="1228.60" y2="1622.70" stroke="#231f20" stroke-width="2.7"/>
<line x1="1221.95" y1="1550.50" x2="1235.25" y2="1550.50" stroke="#231f20" stroke-width="2.8"/>
<line x1="1221.95" y1="1622.70" x2="1235.25" y2="1622.70" stroke="#231f20" stroke-width="2.8"/>
<line x1="1210.30" y1="1586.10" x2="1246.50" y2="1586.10" stroke="#231f20" stroke-width="2.7"/>
<line x1="1210.30" y1="1579.70" x2="1210.30" y2="1592.50" stroke="#231f20" stroke-width="2.8"/>
<line x1="1246.50" y1="1579.70" x2="1246.50" y2="1592.50" stroke="#231f20" stroke-width="2.8"/>
<line x1="1276.40" y1="1705.10" x2="1331.90" y2="1705.10" stroke="#231f20" stroke-width="2.7"/>
<line x1="1276.40" y1="1698.15" x2="1276.40" y2="1712.05" stroke="#231f20" stroke-width="2.8"/>
<line x1="1331.90" y1="1698.15" x2="1331.90" y2="1712.05" stroke="#231f20" stroke-width="2.8"/>
<circle cx="1018.1" cy="1471.6" r="14.2" fill="#fff" stroke="#231f20" stroke-width="3.5"/>
<circle cx="1058.1" cy="1502.8" r="17.1" fill="#231f20"/>
<circle cx="1228.6" cy="1586.1" r="14" fill="#fff" stroke="#ff0000" stroke-width="3.4"/>
<circle cx="1303.9" cy="1705.1" r="13.6" fill="#ff0000" stroke="#231f20" stroke-width="2.8"/>
</svg></body></html>
